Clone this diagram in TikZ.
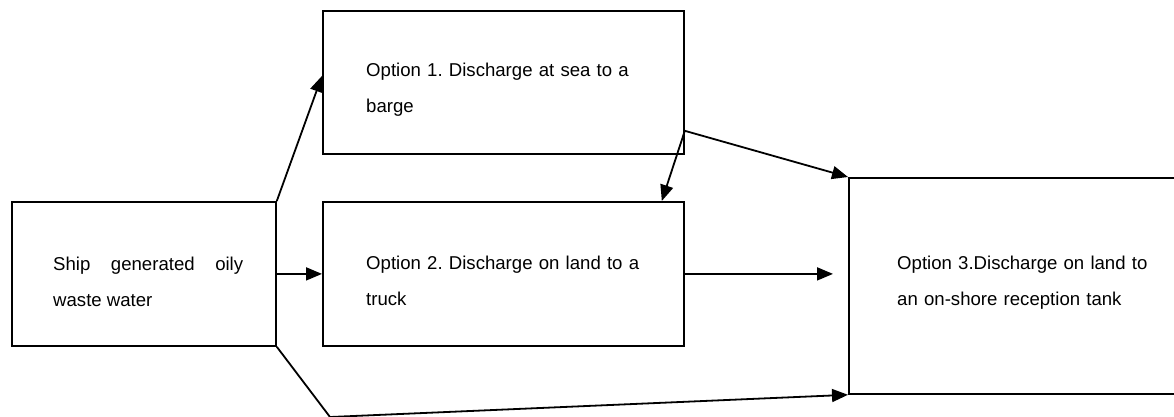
\documentclass[tikz,border=0pt]{standalone}
\usepackage{fontspec}
\setmainfont{Liberation Sans}
\usetikzlibrary{arrows.meta}
\frenchspacing
\begin{document}
\begin{tikzpicture}[x=1pt,y=-1pt,
  box/.style={draw,line width=1.8pt,rectangle,inner sep=0pt,anchor=north west},
  txt/.style={inner sep=0pt,anchor=base west,align=left,font=\fontsize{18.6}{36}\selectfont\frenchspacing},
  conn/.style={line width=1.8pt,-{Triangle[length=16pt,width=13pt]}},
  plain/.style={line width=1.8pt}]
\useasboundingbox (0,0) rectangle (1174,416);
\clip (0,0) rectangle (1174,416);
\node[box,minimum width=264pt,minimum height=144pt] (A) at (11,201) {};
\node[box,minimum width=361pt,minimum height=143pt] (B) at (322,10) {};
\node[box,minimum width=361pt,minimum height=144pt] (C) at (322,201) {};
\node[box,minimum width=340pt,minimum height=216pt] (D) at (848,177) {};
\node[txt,text width=190pt,align=justify] (tA) at (53,270) {Ship generated oily waste water};
\node[txt,text width=300pt] (tB) at (366,76) {Option 1. Discharge at sea to a\\barge};
\node[txt,text width=300pt] (tC) at (366,269) {Option 2. Discharge on land to a\\truck};
\node[txt,text width=270pt] (tD) at (897,269) {Option 3.Discharge on land to\\an on-shore reception tank};
\coordinate (b1) at ([yshift=24pt]B.south east);
\coordinate (v) at (330,417);
\draw[conn] (A.north east) -- ([yshift=6.5pt]B.west);
\draw[conn] (A.east |- C.west) -- (C.west);
\draw[conn] (b1) -- (D.north west);
\draw[conn] (b1) -- ([xshift=-23pt]C.north east);
\draw[conn] (C.east) -- ([xshift=-15pt]C.east -| D.west);
\draw[plain] (A.south east) -- (v);
\draw[conn] (v) -- (D.south west);
\end{tikzpicture}
\end{document}
